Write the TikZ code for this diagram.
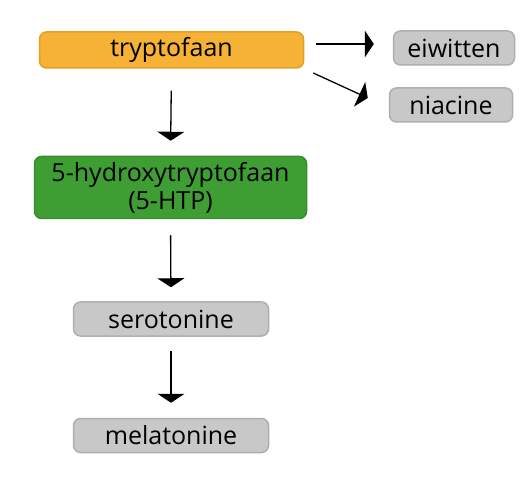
\documentclass[tikz,border=0pt]{standalone}
\usepackage{fontspec}
\setmainfont{Open Sans}
\usetikzlibrary{arrows.meta,calc}
\definecolor{orfill}{HTML}{F6B234}
\definecolor{ordraw}{HTML}{E3A025}
\definecolor{grfill}{HTML}{3F9E33}
\definecolor{grdraw}{HTML}{388E2D}
\definecolor{gyfill}{HTML}{C8C8C8}
\definecolor{gydraw}{HTML}{AFAFAF}
\tikzset{
  box/.style={rounded corners=7pt, minimum height=34pt, inner sep=0pt, align=center,
    font=\fontsize{25}{28}\selectfont, text=black, line width=1.5pt},
  orbox/.style={box, fill=orfill, draw=ordraw},
  grbox/.style={box, fill=grfill, draw=grdraw},
  gybox/.style={box, fill=gyfill, draw=gydraw},
  arr/.style={line width=1.3pt, -{Triangle[width=27pt,length=9pt]}},
}
\begin{document}
\begin{tikzpicture}[x=1pt,y=-1pt]
\useasboundingbox (0,0) rectangle (530,486);
\node[orbox, minimum width=264pt, minimum height=36pt] (tryp) at (171.5,50) {tryptofaan};
\node[gybox, minimum width=121pt] (eiw) at (454,48) {eiwitten};
\node[gybox, minimum width=123pt] (nia) at (451,105) {niacine};
\node[grbox, minimum width=272pt, minimum height=62pt] (htp) at (170.5,187.5) {5-hydroxytryptofaan\\(5-HTP)};
\node[gybox, minimum width=195pt] (ser) at (171,319) {serotonine};
\node[gybox, minimum width=195pt] (mel) at (171,435.5) {melatonine};
\draw[arr, shorten <=22pt, shorten >=15pt] (tryp.south) -- (htp.north);
\draw[arr, shorten <=16pt, shorten >=14pt] (htp.south) -- (ser.north);
\draw[arr, shorten <=14pt, shorten >=15pt] (ser.south) -- (mel.north);
\draw[arr] ([xshift=12pt,yshift=6pt]tryp.east) -- ([xshift=-19pt,yshift=4pt]eiw.west);
\draw[arr] ([xshift=9pt,yshift=-23pt]tryp.east) -- ([xshift=-21pt,yshift=7pt]nia.west);
\end{tikzpicture}
\end{document}
